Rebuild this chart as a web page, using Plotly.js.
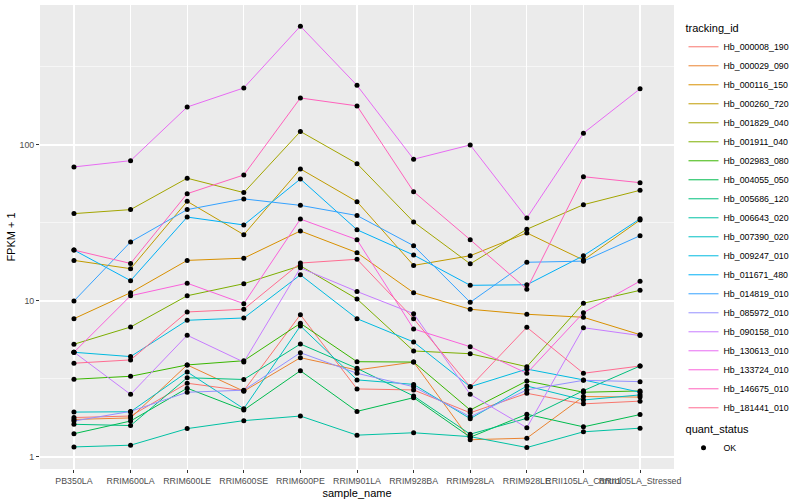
<!DOCTYPE html>
<html><head><meta charset="utf-8">
<script src="https://cdn.plot.ly/plotly-3.0.1.min.js"></script>
<style>html,body{margin:0;padding:0;background:#fff}#chart{width:800px;height:500px}</style>
</head><body><div id="chart"></div>
<script>
const samples = ['PB350LA','RRIM600LA','RRIM600LE','RRIM600SE','RRIM600PE','RRIM901LA','RRIM928BA','RRIM928LA','RRIM928LE','RRII105LA_Control','RRII105LA_Stressed'];
const trackingIds = ['Hb_000008_190','Hb_000029_090','Hb_000116_150','Hb_000260_720','Hb_001829_040','Hb_001911_040','Hb_002983_080','Hb_004055_050','Hb_005686_120','Hb_006643_020','Hb_007390_020','Hb_009247_010','Hb_011671_480','Hb_014819_010','Hb_085972_010','Hb_090158_010','Hb_130613_010','Hb_133724_010','Hb_146675_010','Hb_181441_010'];
const colors = ['#F8766D','#EA8331','#D89000','#C09B00','#A3A500','#7CAE00','#39B600','#00BB4E','#00BF7D','#00C1A3','#00BFC4','#00BAE0','#00B0F6','#35A2FF','#9590FF','#C77CFF','#E76BF3','#FA62DB','#FF62BC','#FF6C91'];

// FPKM + 1 per sample (order of samples)
const hb_000008_190 = [1.79, 1.83, 2.97, 2.66, 8.17, 2.73, 2.69, 1.92, 2.56, 2.19, 2.28];
const hb_000029_090 = [1.74, 1.78, 3.89, 2.64, 4.33, 3.61, 4.06, 1.29, 1.32, 2.44, 2.42];
const hb_000116_150 = [7.70, 11.3, 18.2, 18.8, 28.1, 20.4, 11.3, 8.85, 8.22, 7.86, 6.08];
const hb_000260_720 = [18.2, 16.1, 43.5, 26.6, 70.2, 43.3, 16.9, 19.5, 27.3, 18.3, 33.0];
const hb_001829_040 = [36.3, 38.5, 61.2, 49.5, 122, 75.9, 32.1, 17.3, 28.8, 41.4, 51.2];
const hb_001911_040 = [5.28, 6.81, 10.8, 12.9, 16.8, 10.3, 4.78, 4.59, 3.79, 9.67, 11.7];
const hb_002983_080 = [3.15, 3.29, 3.89, 4.14, 7.19, 4.08, 4.06, 2.00, 3.07, 2.60, 2.65];
const hb_004055_050 = [1.41, 1.70, 2.76, 2.00, 3.57, 1.96, 2.40, 1.34, 1.88, 1.56, 1.87];
const hb_005686_120 = [1.62, 1.59, 3.22, 3.14, 5.30, 3.70, 2.46, 1.40, 1.77, 2.66, 3.83];
const hb_006643_020 = [1.16, 1.19, 1.52, 1.71, 1.83, 1.38, 1.43, 1.35, 1.15, 1.45, 1.53];
const hb_007390_020 = [1.94, 1.95, 3.51, 2.04, 6.92, 3.12, 2.92, 1.76, 2.85, 2.32, 2.50];
const hb_009247_010 = [4.69, 4.40, 7.52, 7.78, 14.7, 7.70, 5.46, 2.82, 3.66, 3.12, 2.60];
const hb_011671_480 = [21.2, 13.5, 34.5, 30.7, 60.5, 28.6, 19.7, 12.6, 12.7, 19.5, 33.6];
const hb_014819_010 = [10.0, 23.9, 38.5, 45.1, 41.0, 35.3, 22.6, 9.81, 17.7, 18.0, 26.2];
const hb_085972_010 = [1.70, 1.96, 2.60, 2.68, 4.66, 3.44, 2.82, 1.81, 2.69, 3.10, 3.04];
const hb_090158_010 = [4.70, 2.52, 6.03, 4.06, 16.3, 11.5, 8.29, 2.52, 1.54, 6.74, 6.00];
const hb_130613_010 = [72.3, 79.3, 175, 232, 577, 241, 81.0, 100, 34.0, 119, 229];
const hb_133724_010 = [4.69, 10.8, 13.0, 9.61, 33.5, 24.7, 6.62, 5.09, 3.44, 8.41, 13.4];
const hb_146675_010 = [21.2, 17.4, 48.7, 64.2, 200, 178, 50.2, 24.7, 11.9, 62.6, 57.3];
const hb_181441_010 = [3.99, 4.19, 8.50, 8.85, 17.5, 18.5, 7.70, 2.82, 6.78, 3.44, 3.83];

const seriesValues = [hb_000008_190, hb_000029_090, hb_000116_150, hb_000260_720, hb_001829_040,
  hb_001911_040, hb_002983_080, hb_004055_050, hb_005686_120, hb_006643_020, hb_007390_020,
  hb_009247_010, hb_011671_480, hb_014819_010, hb_085972_010, hb_090158_010, hb_130613_010,
  hb_133724_010, hb_146675_010, hb_181441_010];

const yTickVals = [1, 10, 100];
const yTickText = ['1', '10', '100'];
const yMinorVals = [Math.sqrt(10), Math.sqrt(1000), Math.sqrt(100000)];

const FONT = 'Liberation Sans, Arial, Helvetica, sans-serif';

const traces = seriesValues.map((vals, i) => ({
  type: 'scatter', mode: 'lines', x: samples, y: vals,
  name: trackingIds[i], legend: 'legend',
  line: {color: colors[i], width: 1}, hoverinfo: 'skip'
}));

const px = [], py = [];
seriesValues.forEach(vals => vals.forEach((v, j) => { px.push(samples[j]); py.push(v); }));
traces.push({
  type: 'scatter', mode: 'markers', x: px, y: py, name: 'OK', legend: 'legend2',
  marker: {color: '#000000', size: 5, symbol: 'circle'}, hoverinfo: 'skip'
});

const layout = {
  width: 800, height: 500,
  paper_bgcolor: '#FFFFFF', plot_bgcolor: '#EBEBEB',
  margin: {l: 40, r: 116, t: 5, b: 31, pad: 0},
  font: {family: FONT, size: 9, color: '#4D4D4D'},
  showlegend: true,
  xaxis: {
    type: 'category', categoryorder: 'array', categoryarray: samples,
    range: [-0.6, samples.length - 0.4],
    showgrid: true, gridcolor: '#FFFFFF', gridwidth: 1.1,
    zeroline: false, showline: false,
    ticks: 'outside', ticklen: 3, tickwidth: 1, tickcolor: '#333333',
    tickangle: 0, tickfont: {family: FONT, size: 8.8, color: '#4D4D4D'},
    title: {text: 'sample_name', font: {family: FONT, size: 11, color: '#000000'}, standoff: 4},
    automargin: false
  },
  yaxis: {
    type: 'log', range: [-0.077, 2.897],
    tickmode: 'array', tickvals: yTickVals, ticktext: yTickText,
    showgrid: true, gridcolor: '#FFFFFF', gridwidth: 1.1,
    minor: {tickmode: 'array', tickvals: yMinorVals, showgrid: true, gridcolor: '#FFFFFF', gridwidth: 0.55, ticks: ''},
    zeroline: false, showline: false,
    ticks: 'outside', ticklen: 3, tickwidth: 1, tickcolor: '#333333',
    tickfont: {family: FONT, size: 8.8, color: '#4D4D4D'},
    title: {text: 'FPKM + 1', font: {family: FONT, size: 11, color: '#000000'}, standoff: 1},
    automargin: false
  },
  legend: {
    x: 1.015, xanchor: 'left', y: 0.972, yanchor: 'top',
    title: {text: 'tracking_id', font: {family: FONT, size: 11, color: '#000000'}},
    font: {family: FONT, size: 8.8, color: '#000000'},
    bgcolor: 'rgba(0,0,0,0)', borderwidth: 0, tracegroupgap: 0, itemwidth: 30
  },
  legend2: {
    x: 1.015, xanchor: 'left', y: 0.108, yanchor: 'top',
    title: {text: 'quant_status', font: {family: FONT, size: 11, color: '#000000'}},
    font: {family: FONT, size: 8.8, color: '#000000'},
    bgcolor: 'rgba(0,0,0,0)', borderwidth: 0, itemwidth: 30
  }
};

Plotly.newPlot('chart', traces, layout, {displayModeBar: false, staticPlot: true});
</script>
</body></html>
